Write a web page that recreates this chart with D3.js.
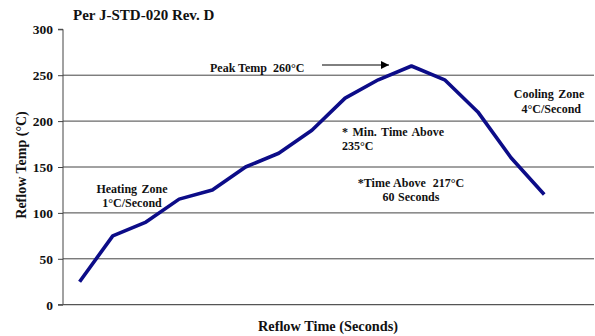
<!DOCTYPE html>
<html><head><meta charset="utf-8">
<script src="https://cdn.jsdelivr.net/npm/d3@7"></script>
<style>body{margin:0;background:#fff}svg{display:block}text{font-family:"Liberation Serif","Times New Roman",serif;font-weight:bold;fill:#111}</style>
</head><body><svg id="c" width="595" height="336"></svg>
<script>
const categories = d3.range(1, 17); // 16 category slots, 15 data points
const temps = [25, 75, 90, 115, 125, 150, 165, 190, 225, 245, 260, 245, 210, 160, 120];
const yTicks = [0, 50, 100, 150, 200, 250, 300];
const gridValues = [50, 100, 150, 200, 250];

const svg = d3.select("#c");
const x = d3.scaleBand().domain(categories).range([63, 594]);
const y = d3.scaleLinear().domain([0, 300]).range([304.7, 29.3]);

svg.append("g").selectAll("line").data(gridValues).join("line")
  .attr("x1", 63).attr("x2", 594)
  .attr("y1", d => y(d)).attr("y2", d => y(d))
  .attr("stroke", "#444").attr("stroke-width", 1);

const ya = svg.append("g").attr("transform", "translate(63,0)")
  .call(d3.axisLeft(y).tickValues(yTicks).tickSize(5).tickPadding(5));
ya.select(".domain").attr("stroke", "#444").attr("d", `M-5,${y(300)}H0V${y(0)}`);
ya.selectAll(".tick line").attr("stroke", "#444");
ya.selectAll(".tick text").attr("font-size", 13.5).attr("font-family", "Liberation Serif").attr("font-weight", "bold").attr("fill", "#111");

svg.append("line").attr("x1", 58).attr("x2", 594).attr("y1", y(0)).attr("y2", y(0))
  .attr("stroke", "#555").attr("stroke-width", 1.2);

const line = d3.line().x((d, i) => x(categories[i]) + x.bandwidth() / 2).y(d => y(d));
svg.append("path").datum(temps).attr("d", line)
  .attr("fill", "none").attr("stroke", "#0c0c88").attr("stroke-width", 3.6)
  .attr("stroke-linejoin", "round").attr("stroke-linecap", "butt");

svg.append("text").attr("x", 73).attr("y", 19.5).attr("font-size", 15).text("Per J-STD-020 Rev. D");

svg.append("text").attr("transform", "translate(26,165) rotate(-90)")
  .attr("text-anchor", "middle").attr("font-size", 14).text("Reflow Temp (°C)");
svg.append("text").attr("x", 328).attr("y", 331).attr("text-anchor", "middle")
  .attr("font-size", 14.3).text("Reflow Time (Seconds)");

function label(lines, xx, yy, anchor, size, ws) {
  const t = svg.append("text").attr("font-size", size || 12).attr("text-anchor", anchor)
    .attr("word-spacing", ws == null ? 1.5 : ws).style("white-space", "pre");
  lines.forEach((s, i) => t.append("tspan").attr("x", xx).attr("y", yy + i * 14.5).text(s));
}
label(["Peak Temp  260°C"], 210, 71.5, "start", 12, 0);
label(["Heating Zone", "1°C/Second"], 132, 192.7, "middle", 12);
label(["Cooling Zone", " 4°C/Second"], 549, 98, "middle", 12);
label(["* Min. Time Above", "235°C"], 342, 135.7, "start", 12);
label(["*Time Above  217°C", "60 Seconds"], 411, 186.7, "middle", 12, 0.5);

svg.append("defs").append("marker").attr("id", "ah").attr("viewBox", "0 0 10 10")
  .attr("refX", 10).attr("refY", 5).attr("markerWidth", 8).attr("markerHeight", 8)
  .attr("markerUnits", "userSpaceOnUse").attr("orient", "auto")
  .append("path").attr("d", "M0,0L10,5L0,10Z").attr("fill", "#000");
svg.append("line").attr("x1", 322).attr("x2", 389).attr("y1", 65).attr("y2", 65)
  .attr("stroke", "#000").attr("stroke-width", 1).attr("marker-end", "url(#ah)");
</script></body></html>
